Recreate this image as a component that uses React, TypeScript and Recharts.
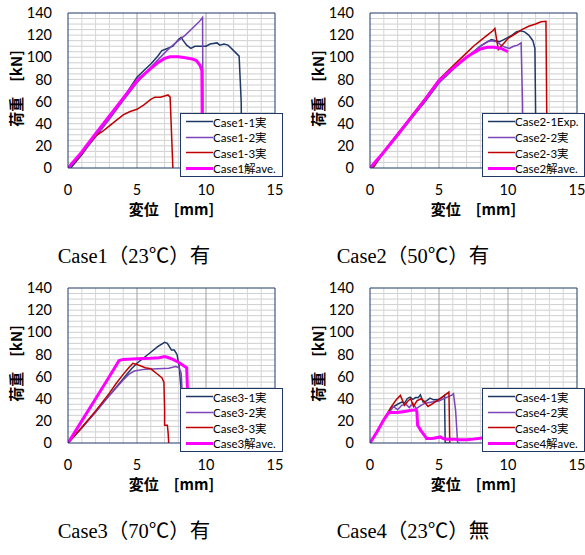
import { LineChart, Line, XAxis, YAxis, ReferenceLine, Legend } from "recharts";

type Pt = [number, number];

// axis ticks and grid values
const X_TICKS = [0, 5, 10, 15];
const Y_TICKS = [0, 20, 40, 60, 80, 100, 120, 140];
const X_MINOR = [1, 2, 3, 4, 6, 7, 8, 9, 11, 12, 13, 14];
const X_MAJOR = [5, 10];
const Y_MINOR = Array.from({ length: 27 }, (_, i) => (i + 1) * 5);

// Case1 (23℃) 有
const case1_1: Pt[] = [
  [0.2, 0], [1, 12], [2, 29], [3, 46], [4, 63], [5, 82], [5.5, 88], [6, 94], [6.5, 101],
  [6.8, 106], [7.2, 108], [7.6, 110], [8.0, 116], [8.2, 118], [8.35, 115], [8.6, 111],
  [8.9, 108], [9.2, 110], [9.6, 110], [10.0, 110], [10.3, 112], [10.8, 113], [11.0, 111],
  [11.3, 112], [11.6, 111], [12.0, 106], [12.4, 101], [12.55, 60], [12.6, 0],
];
const case1_2: Pt[] = [
  [0, 0], [1, 13], [2, 28], [3, 44], [4, 61], [5, 77], [6, 91], [7, 104], [7.5, 110],
  [8, 115], [8.5, 120], [9, 126], [9.5, 132], [9.75, 136], [9.8, 0],
];
const case1_3: Pt[] = [
  [0, 0], [0.5, 6], [1, 13], [1.5, 22], [2, 29], [2.5, 33], [3, 38], [3.5, 43], [4, 48],
  [4.5, 51], [5, 53], [5.5, 57], [6, 62], [6.3, 64], [6.7, 64], [7.0, 65], [7.25, 66],
  [7.4, 64], [7.6, 0],
];
const case1_ave: Pt[] = [
  [0, 0], [1, 14.5], [2, 31], [3, 47], [4, 63], [5, 79], [6, 90], [6.5, 95], [7, 99],
  [7.4, 100.5], [8, 100.5], [8.5, 99.5], [9, 98.5], [9.3, 97], [9.55, 93], [9.7, 88],
  [9.72, 50], [9.75, 0],
];

// Case2 (50℃) 有
const case2_1: Pt[] = [
  [0.2, 0], [1, 14], [2, 29], [3, 45], [4, 60], [5, 77], [6, 89], [7, 100], [7.5, 105],
  [8, 110], [8.5, 114], [8.8, 116], [9.1, 115], [9.4, 114], [9.7, 116], [10.0, 118],
  [10.3, 120], [10.6, 123], [10.9, 124], [11.2, 123], [11.5, 120], [11.8, 115],
  [11.95, 108], [12.0, 50], [12.05, 0],
];
const case2_2: Pt[] = [
  [0.2, 0], [1, 14], [2, 29], [3, 45], [4, 61], [5, 77], [6, 89], [7, 100], [7.5, 105],
  [8, 110], [8.5, 114], [8.8, 115], [9.2, 114], [9.5, 111], [9.8, 109], [10.1, 108],
  [10.4, 110], [10.7, 111], [10.95, 113], [11.05, 60], [11.1, 0],
];
const case2_3: Pt[] = [
  [0.2, 0], [1, 15], [2, 31], [3, 47], [4, 63], [5, 80], [6, 92], [7, 104], [7.5, 110],
  [8, 115], [8.5, 120], [8.9, 124], [9.05, 126], [9.15, 118], [9.3, 107], [9.5, 110],
  [9.8, 114], [10.0, 117], [10.5, 121], [11.0, 125], [11.5, 128], [12.0, 130],
  [12.4, 132], [12.75, 132.5], [12.8, 60], [12.85, 0],
];
const case2_ave: Pt[] = [
  [0, 0], [1, 14.5], [2, 30], [3, 46], [4, 62], [5, 79], [6, 90], [7, 100], [7.5, 104],
  [8, 107.5], [8.5, 109], [9, 109], [9.5, 108], [10, 105],
];

// Case3 (70℃) 有
const case3_1: Pt[] = [
  [0, 0], [1, 14], [2, 28], [3, 43], [4, 58], [4.6, 67], [5, 72], [5.5, 77], [6, 82],
  [6.5, 87], [7, 91], [7.2, 90], [7.4, 86], [7.5, 84], [7.7, 84], [7.9, 80], [8.05, 70],
  [8.15, 55], [8.3, 30], [8.35, 0],
];
const case3_2: Pt[] = [
  [0, 0], [1, 13.5], [2, 28], [3, 43], [4, 57], [4.4, 62], [4.8, 65], [5.5, 66.5],
  [6.5, 67], [7.3, 67.5], [7.8, 69], [8.05, 68], [8.2, 63], [8.3, 40], [8.35, 0],
];
const case3_3: Pt[] = [
  [0, 0], [1, 14], [2, 29], [3, 45], [3.5, 54], [4, 62], [4.4, 68], [4.7, 72], [5.2, 70],
  [5.6, 68], [6.0, 67], [6.4, 63], [6.8, 59], [6.95, 55], [7.0, 30], [7.0, 16], [7.2, 16],
  [7.25, 10], [7.3, 0],
];
const case3_ave: Pt[] = [
  [0, 0], [1, 20], [2, 40], [3, 60], [3.7, 74.5], [4, 75.5], [5, 76], [6, 76.5],
  [6.6, 77], [7.0, 78], [7.3, 77], [7.6, 75.5], [8.0, 73], [8.3, 70.5], [8.6, 68],
  [8.65, 50], [8.7, 0],
];

// Case4 (23℃) 無
const case4_1: Pt[] = [
  [0, 0], [0.5, 10], [1, 21], [1.3, 27], [1.6, 32], [2.0, 35], [2.3, 37], [2.5, 36],
  [2.7, 40], [2.9, 41.5], [3.1, 39.5], [3.3, 41], [3.5, 41], [3.65, 43.5], [3.85, 37],
  [4.1, 38], [4.35, 40.5], [4.6, 39], [4.9, 39], [5.1, 40], [5.3, 42], [5.4, 43],
  [5.45, 0], [5.8, 0],
];
const case4_2: Pt[] = [
  [0, 0], [0.5, 10], [1, 21], [1.3, 26], [1.7, 33], [2.0, 30], [2.3, 34], [2.6, 35],
  [2.85, 32], [3.1, 36], [3.35, 31], [3.7, 34], [4.0, 36], [4.5, 37], [5.0, 38],
  [5.5, 41], [5.9, 43], [6.05, 44.5], [6.2, 30], [6.35, 0], [6.5, 0],
];
const case4_3: Pt[] = [
  [0, 0], [0.5, 10], [1, 21], [1.5, 32], [1.9, 39], [2.2, 43], [2.5, 34], [2.75, 38],
  [2.95, 40], [3.15, 33], [3.4, 38], [3.7, 40], [3.9, 38], [4.2, 33], [4.6, 36],
  [5.0, 39.5], [5.4, 43], [5.72, 46], [5.78, 0],
];
const case4_ave: Pt[] = [
  [0, 0], [0.5, 10], [1, 21], [1.35, 27.5], [2.0, 27.5], [2.5, 28.5], [3.0, 29.5],
  [3.35, 30], [3.4, 28], [3.45, 16], [3.7, 11], [4.0, 6], [4.1, 4], [4.5, 4], [4.9, 5],
  [5.1, 5.5], [5.3, 4], [5.5, 3.5], [6.0, 3.5], [6.5, 3], [7.0, 3], [7.5, 3.5],
  [8.1, 4.5], [9, 4.5], [10, 5],
];

const NAVY = "#1F3868";
const PURPLE = "#7A45B8";
const RED = "#C00000";
const MAGENTA = "#FF00FF";
const FONT = "Lato, 'Noto Sans CJK JP', sans-serif";

type Series = { name: string; color: string; width: number; pts: Pt[] };

const toRows = (pts: Pt[]) => pts.map(([x, y]) => ({ x, y }));

function XLabel({ viewBox }: any) {
  return (
    <text
      x={viewBox.x + viewBox.width / 2}
      y={viewBox.y + 47}
      textAnchor="middle"
      fontFamily="'Noto Sans CJK JP', sans-serif"
      fontWeight={700}
      fontSize={15}
      fill="#000"
    >
      変位　[mm]
    </text>
  );
}

function YLabel({ viewBox }: any) {
  const cx = viewBox.x + 15;
  const cy = viewBox.y + viewBox.height / 2 - 2;
  return (
    <text
      x={cx}
      y={cy}
      transform={`rotate(-90, ${cx}, ${cy})`}
      textAnchor="middle"
      dominantBaseline="central"
      fontFamily="'Noto Sans CJK JP', sans-serif"
      fontWeight={700}
      fontSize={15}
      fill="#000"
    >
      荷重　[kN]
    </text>
  );
}

function LegendBox({ series }: { series: Series[] }) {
  return (
    <div
      style={{
        boxSizing: "border-box",
        width: 103,
        height: 64,
        background: "#fff",
        border: `1px solid ${NAVY}`,
        fontFamily: FONT,
        fontSize: 11.5,
        color: "#000",
      }}
    >
      {series.map((s) => (
        <div key={s.name} style={{ display: "flex", alignItems: "center", height: 15.5 }}>
          <svg width={32} height={15} style={{ flex: "none" }}>
            <line x1={5} x2={32} y1={7.5} y2={7.5} stroke={s.color} strokeWidth={s.width} />
          </svg>
          <span style={{ whiteSpace: "nowrap" }}>{s.name}</span>
        </div>
      ))}
    </div>
  );
}

function Panel({
  left,
  top,
  width,
  title,
  titleX,
  series,
}: {
  left: number;
  top: number;
  width: number;
  title: string;
  titleX: number;
  series: Series[];
}) {
  return (
    <div style={{ position: "absolute", left, top, width, height: 280 }}>
      <LineChart
        width={width}
        height={230}
        margin={{ top: 13, right: width - 275, left: 0, bottom: 0 }}
      >
        <XAxis
          type="number"
          dataKey="x"
          domain={[0, 15]}
          ticks={X_TICKS}
          height={62}
          tickLine={false}
          tickMargin={11}
          axisLine={{ stroke: NAVY }}
          tick={{ fontSize: 14.5, fill: "#000", fontFamily: FONT }}
          label={<XLabel />}
          allowDataOverflow
        />
        <YAxis
          type="number"
          dataKey="y"
          domain={[0, 140]}
          ticks={Y_TICKS}
          width={68}
          tickLine={false}
          tickMargin={10}
          axisLine={{ stroke: NAVY }}
          tick={{ fontSize: 14.5, fill: "#000", fontFamily: FONT }}
          label={<YLabel />}
          allowDataOverflow
        />
        {Y_MINOR.map((v) => (
          <ReferenceLine key={"h" + v} y={v} stroke="#CFCFCF" strokeWidth={1} />
        ))}
        {X_MINOR.map((v) => (
          <ReferenceLine key={"v" + v} x={v} stroke="#D6D6D6" strokeWidth={1} />
        ))}
        {X_MAJOR.map((v) => (
          <ReferenceLine key={"m" + v} x={v} stroke="#A0A0A0" strokeWidth={1} />
        ))}
        <ReferenceLine y={140} stroke={NAVY} />
        <ReferenceLine x={15} stroke={NAVY} />
        {series.map((s) => (
          <Line
            key={s.name}
            name={s.name}
            data={toRows(s.pts)}
            dataKey="y"
            type="linear"
            stroke={s.color}
            strokeWidth={s.width}
            dot={false}
            activeDot={false}
            isAnimationActive={false}
          />
        ))}
        <Legend
          layout="vertical"
          align="center"
          verticalAlign="middle"
          wrapperStyle={{ left: 180, top: 113, width: 103, height: 64 }}
          content={() => <LegendBox series={series} />}
        />
      </LineChart>
      <div
        style={{
          position: "absolute",
          left: titleX - 100,
          width: 200,
          top: 244,
          height: 24,
          lineHeight: "24px",
          textAlign: "center",
          fontFamily: "'Liberation Serif', 'Noto Sans CJK JP', serif",
          fontSize: 20.5,
          color: "#000",
          whiteSpace: "nowrap",
        }}
      >
        {title}
      </div>
    </div>
  );
}

export default function App() {
  const s1: Series[] = [
    { name: "Case1-1実", color: NAVY, width: 1.5, pts: case1_1 },
    { name: "Case1-2実", color: PURPLE, width: 1.5, pts: case1_2 },
    { name: "Case1-3実", color: RED, width: 1.5, pts: case1_3 },
    { name: "Case1解ave.", color: MAGENTA, width: 3, pts: case1_ave },
  ];
  const s2: Series[] = [
    { name: "Case2-1Exp.", color: NAVY, width: 1.5, pts: case2_1 },
    { name: "Case2-2実", color: PURPLE, width: 1.5, pts: case2_2 },
    { name: "Case2-3実", color: RED, width: 1.5, pts: case2_3 },
    { name: "Case2解ave.", color: MAGENTA, width: 3, pts: case2_ave },
  ];
  const s3: Series[] = [
    { name: "Case3-1実", color: NAVY, width: 1.5, pts: case3_1 },
    { name: "Case3-2実", color: PURPLE, width: 1.5, pts: case3_2 },
    { name: "Case3-3実", color: RED, width: 1.5, pts: case3_3 },
    { name: "Case3解ave.", color: MAGENTA, width: 3, pts: case3_ave },
  ];
  const s4: Series[] = [
    { name: "Case4-1実", color: NAVY, width: 1.5, pts: case4_1 },
    { name: "Case4-2実", color: PURPLE, width: 1.5, pts: case4_2 },
    { name: "Case4-3実", color: RED, width: 1.5, pts: case4_3 },
    { name: "Case4解ave.", color: MAGENTA, width: 3, pts: case4_ave },
  ];
  return (
    <div
      style={{
        position: "absolute",
        left: 0,
        top: 0,
        width: 585,
        height: 555,
        background: "#fff",
        overflow: "hidden",
      }}
    >
      <Panel left={0} top={0} width={292} title="Case1（23℃）有" titleX={134} series={s1} />
      <Panel left={302} top={0} width={283} title="Case2（50℃）有" titleX={111} series={s2} />
      <Panel left={0} top={275} width={292} title="Case3（70℃）有" titleX={134} series={s3} />
      <Panel left={302} top={275} width={283} title="Case4（23℃）無" titleX={111} series={s4} />
    </div>
  );
}
